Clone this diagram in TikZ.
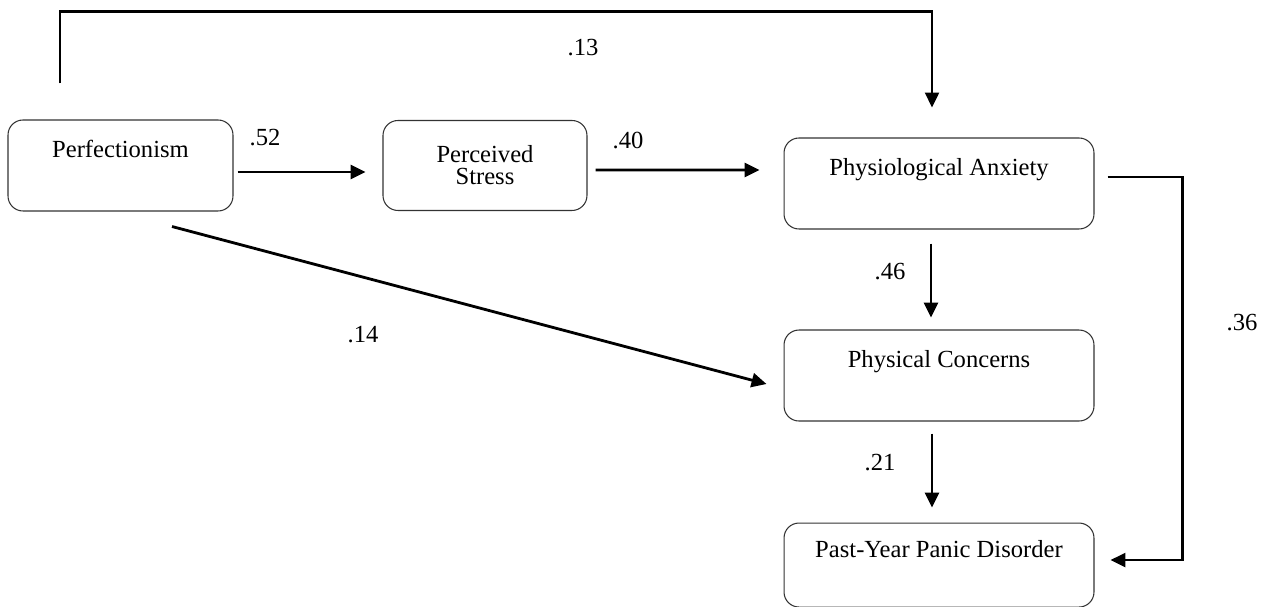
\documentclass[tikz,border=0pt]{standalone}
\usepackage{fontspec}
\setmainfont{Liberation Serif}
\usetikzlibrary{arrows.meta, positioning}
\tikzset{
    base/.style={draw=black!80, line width=0.6pt, rounded corners=8.5pt, align=center, font=\fontsize{14}{12.5}\selectfont, inner sep=0pt},
    box/.style={base, rectangle, minimum width=6.2cm, minimum height=1.82cm},
    toptext/.style={text height=10pt, text depth=19pt},
    coef/.style={font=\fontsize{14}{17}\selectfont, inner sep=0pt},
    arrow/.style={-{Triangle[length=8.5pt, width=8pt]}, line width=1.6pt, draw=black},
    link/.style={line width=1.2pt, draw=black}
}

\begin{document}
\begin{tikzpicture}[x=0.02cm, y=-0.02cm]
    \useasboundingbox (0,0) rectangle (1266,607);

    \node (perf) [box, toptext, minimum width=4.5cm] at (120.5,165.5) {Perfectionism};
    \node (stress) [box, minimum width=4.08cm, minimum height=1.8cm, right=2.98cm of perf] {Perceived\\Stress};
    \node (anx) [box, toptext] at (939,183.5) {Physiological Anxiety};
    \node (conc) [box, toptext, below=2cm of anx] {Physical Concerns};
    \node (panic) [box, toptext, minimum height=1.68cm, below=2.02cm of conc] {Past-Year Panic Disorder};

    \draw [arrow] ([shift={(4,6.5)}]perf.east) -- ([shift={(-17,6.5)}]stress.west);
    \draw [arrow] ([shift={(8,4.5)}]stress.east) -- ([shift={(-24,-13.5)}]anx.west);
    \draw [arrow] ([shift={(-8,14)}]anx.south) -- ([shift={(-8,-12)}]conc.north);
    \draw [arrow] ([shift={(-7,12)}]conc.south) -- ([shift={(-7,-15)}]panic.north);
    \draw [arrow] ([shift={(51.5,15)}]perf.south) -- ([shift={(-17,8.5)}]conc.west);

    % paths round the outside
    \draw [arrow, line width=1.2pt] ([shift={(-60.5,-36)}]perf.north) |- ([shift={(-7,-126)}]anx.north) -- ([shift={(-7,-30)}]anx.north);
    \draw [arrow, line width=1.2pt] ([shift={(13,-6.5)}]anx.east) -- ++(75,0) |- ([shift={(16,-5)}]panic.east);

    \node (c13) [coef] at (583,48) {.13};
    \node (c52) [coef] at (265,138) {.52};
    \node (c40) [coef] at (628,140) {.40};
    \node (c46) [coef] at (890,272) {.46};
    \node (c14) [coef] at (363,335) {.14};
    \node (c21) [coef] at (880,463) {.21};
    \node (c36) [coef] at (1242,323) {.36};
\end{tikzpicture}
\end{document}
